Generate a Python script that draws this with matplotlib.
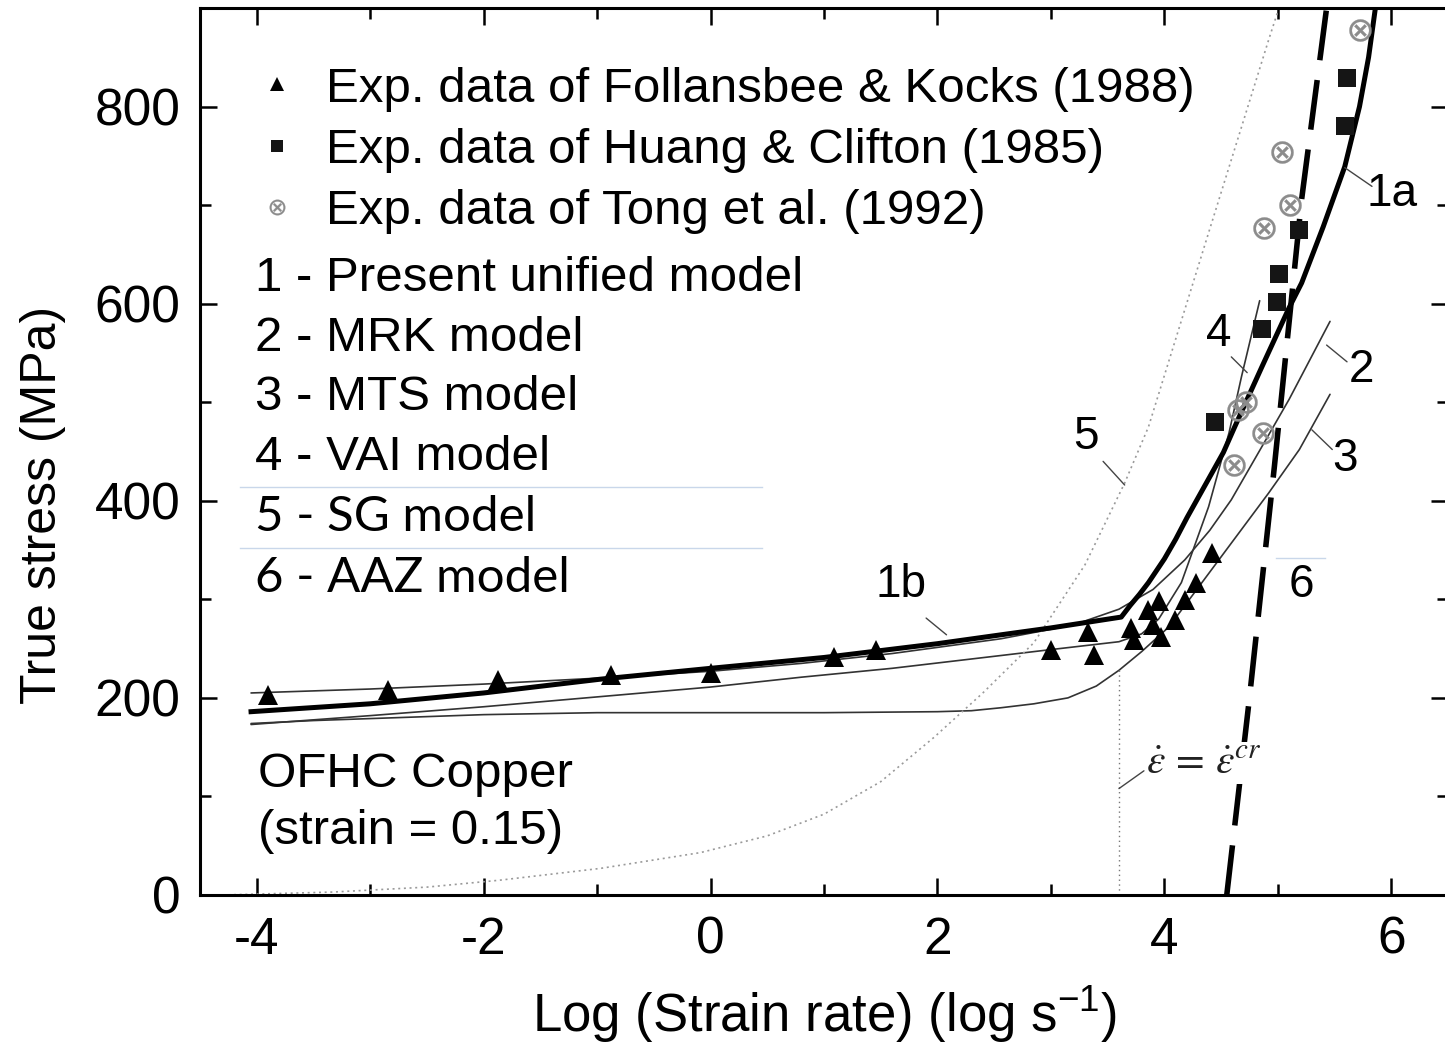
import matplotlib
matplotlib.use("Agg")
import matplotlib.pyplot as plt
from matplotlib.ticker import MultipleLocator

plt.rcParams['font.family'] = ['Liberation Sans', 'DejaVu Sans']
plt.rcParams['mathtext.default'] = 'it'
plt.rcParams['axes.unicode_minus'] = False

# ---- experimental data (log strain rate, true stress in MPa) ----
fk_x = [-3.9, -2.84, -1.87, -0.88, 0.0, 1.09, 1.46, 3.0, 3.33, 3.38, 3.71, 3.73,
        3.86, 3.90, 3.95, 3.97, 4.09, 4.18, 4.28, 4.42]
fk_y = [203, 208, 218, 223, 225, 241, 249, 249, 267, 244, 271, 259,
        289, 274, 298, 262, 279, 299, 317, 347]

hc_x = [4.45, 4.86, 4.99, 5.01, 5.19, 5.59, 5.61]
hc_y = [480, 574, 602, 630, 675, 780, 829]

tong_x = [4.61, 4.65, 4.72, 4.87, 4.88, 5.04, 5.11, 5.72]
tong_y = [436, 492, 500, 469, 677, 754, 700, 878]

# ---- model predictions ----
# 1 - present unified model (1b below the critical rate, 1a above)
m1_x = [-4.05, -3.0, -2.0, -0.97, 0.0, 1.0, 2.0, 2.56, 3.0, 3.45, 3.62,
        3.70, 3.78, 3.86, 4.00, 4.10, 4.20, 4.36, 4.52, 4.62, 4.73, 4.86,
        5.00, 5.10, 5.21, 5.40, 5.59, 5.72, 5.80, 5.86]
m1_y = [186, 194, 205, 219, 230, 241, 255, 264, 271, 279, 282,
        294, 305, 317, 341, 361, 383, 416, 449, 475, 503, 536,
        571, 596, 621, 678, 739, 800, 850, 900]

# 2 - MRK model
m2_x = [-4.05, -3.0, -2.0, -1.0, 0.0, 0.8, 1.6, 2.56, 3.2, 3.6, 3.9, 4.18,
        4.40, 4.59, 4.86, 5.10, 5.46]
m2_y = [205, 209, 214, 220, 227, 235, 245, 260, 274, 290, 310, 340,
        370, 401, 455, 503, 582]

# 3 - MTS model
m3_x = [-4.05, -3.5, -3.0, -2.5, -2.0, -1.0, 0.0, 1.0, 2.0, 2.3, 2.56, 2.85,
        3.15, 3.4, 3.6, 3.8, 4.04, 4.48, 4.92, 5.19, 5.46]
m3_y = [174, 177, 179, 181, 183, 185, 185, 185, 186, 187, 190, 194,
        200, 212, 228, 247, 272, 340, 408, 452, 508]

# 4 - VAI model
m4_x = [-4.05, -3.0, -2.0, -1.0, 0.0, 0.8, 1.6, 2.56, 3.0, 3.6, 3.8, 3.95,
        4.15, 4.39, 4.57, 4.68, 4.84]
m4_y = [173, 182, 191, 201, 211, 221, 230, 243, 249, 257, 265, 280,
        317, 394, 469, 526, 603]

# 5 - SG model
m5_x = [-4.3, -3.33, -2.5, -1.86, -0.97, -0.09, 0.5, 1.0, 1.5, 1.97, 2.4,
        2.85, 3.3, 3.65, 3.86, 4.39, 4.92, 5.01]
m5_y = [0, 3, 8, 15, 27, 43, 60, 82, 115, 160, 205,
        256, 335, 418, 475, 672, 868, 900]

# 6 - AAZ model
m6_x = [4.55, 4.75, 4.97, 5.21, 5.43]
m6_y = [0, 200, 435, 706, 900]

# critical strain rate (log s^-1) and stress where it meets the MTS curve
x_cr = 3.6
y_cr = 228

fig = plt.figure(figsize=(14.45, 10.44), dpi=100)
ax = fig.add_axes([200 / 1445, 149 / 1044, 1248 / 1445, 887 / 1044])

thin = dict(color='#333333', lw=1.2, solid_capstyle='round', solid_joinstyle='round')
ax.plot(m3_x, m3_y, **thin)
ax.plot(m4_x, m4_y, **thin)
ax.plot(m2_x, m2_y, **thin)
ax.plot(m5_x, m5_y, color='#9a9a9a', lw=1.2, linestyle=(0, (1.2, 2.2)))
ax.plot([x_cr, x_cr], [0, y_cr], color='#777777', lw=1.0, linestyle=(0, (1, 2.5)))
ax.plot(m6_x, m6_y, color='black', lw=4.0, linestyle=(0, (9, 3.6)), solid_capstyle='butt')
ax.plot(m1_x, m1_y, color='black', lw=3.6, solid_joinstyle='round')

h_fk, = ax.plot(fk_x, fk_y, linestyle='none', marker='^', ms=15, color='black', mew=0)
h_hc, = ax.plot(hc_x, hc_y, linestyle='none', marker='s', ms=13, color='#151515', mew=0)
h_tg, = ax.plot(tong_x, tong_y, linestyle='none', marker=r'$\otimes$', ms=16,
                color='#8c8c8c', mew=0.2)

ax.set_xlim(-4.5, 6.5)
ax.set_ylim(0, 900)

ax.xaxis.set_major_locator(MultipleLocator(2))
ax.xaxis.set_minor_locator(MultipleLocator(1))
ax.yaxis.set_major_locator(MultipleLocator(200))
ax.yaxis.set_minor_locator(MultipleLocator(100))
ax.tick_params(which='both', direction='in', top=True, right=True, width=1.8)
ax.tick_params(which='major', length=12, labelsize=37)
ax.tick_params(which='minor', length=8)
ax.tick_params(axis='x', pad=15)
ax.tick_params(axis='y', pad=14)
for s in ax.spines.values():
    s.set_linewidth(2.2)

ax.set_xlabel(r'Log (Strain rate) (log s$^{\mathregular{-1}}$)', fontsize=38, va='center')
ax.xaxis.set_label_coords(0.5008, -0.135)
ax.set_ylabel('True stress (MPa)', fontsize=36, va='center')
ax.yaxis.set_label_coords(-0.126, 0.44)

leg = ax.legend([h_fk, h_hc, h_tg],
                ['Exp. data of Follansbee & Kocks (1988)',
                 'Exp. data of Huang & Clifton (1985)',
                 'Exp. data of Tong et al. (1992)'],
                loc='upper left', bbox_to_anchor=(0.044, 0.934), frameon=False,
                fontsize=35.5, handlelength=0.9, handletextpad=0.55,
                labelspacing=0.33, borderpad=0, borderaxespad=0,
                markerscale=0.7, numpoints=1)

model_names = ['1 - Present unified model', '2 - MRK model', '3 - MTS model',
               '4 - VAI model', '5 - SG model', '6 - AAZ model']
model_y = [626, 565, 505, 444, 384, 322]
for name, yy in zip(model_names, model_y):
    fam = ['Lato', 'DejaVu Sans'] if name[0] in '56' else ['Liberation Sans']
    ax.text(-4.015, yy, name, fontsize=35.5, family=fam, va='center', ha='left')

# faint rules between the legend lines
ax.plot([-4.15, 0.45], [414, 414], color='#c9d7ea', lw=1.0)
ax.plot([-4.15, 0.45], [352, 352], color='#c9d7ea', lw=1.0)
ax.plot([4.98, 5.42], [342, 342], color='#c9d7ea', lw=1.0)

ax.text(-3.99, 122, 'OFHC Copper', fontsize=35.5, va='center', ha='left')
ax.text(-3.99, 64, '(strain = 0.15)', fontsize=35.5, va='center', ha='left')

# curve labels with short leader lines
lead = dict(arrowstyle='-', color='#444444', lw=1.0, shrinkA=0, shrinkB=0)
labels = [('1a', 6.01, 711, (5.59, 738), (5.83, 719)),
          ('1b', 1.68, 315, (2.08, 264), (1.90, 281)),
          ('2', 5.74, 533, (5.43, 558), (5.61, 541)),
          ('3', 5.59, 442, (5.30, 472), (5.48, 452)),
          ('4', 4.48, 569, (4.73, 530), (4.59, 546)),
          ('5', 3.31, 465, (3.65, 416), (3.46, 440)),
          ('6', 5.21, 315, None, None)]
for txt, tx, ty, p0, p1 in labels:
    ax.text(tx, ty, txt, fontsize=33, ha='center', va='center')
    if p0 is not None:
        ax.annotate('', xy=p0, xytext=p1, arrowprops=lead)

ax.annotate('', xy=(x_cr, 108), xytext=(3.82, 126), arrowprops=lead)
ax.text(3.84, 134, r'$\dot{\varepsilon}\,=\,\dot{\varepsilon}^{cr}$', fontsize=30,
        math_fontfamily='stix', va='center', ha='left', color='#222222',
        bbox=dict(facecolor='white', edgecolor='none', pad=1.0), zorder=5)

fig.savefig('out.png', dpi=100)
